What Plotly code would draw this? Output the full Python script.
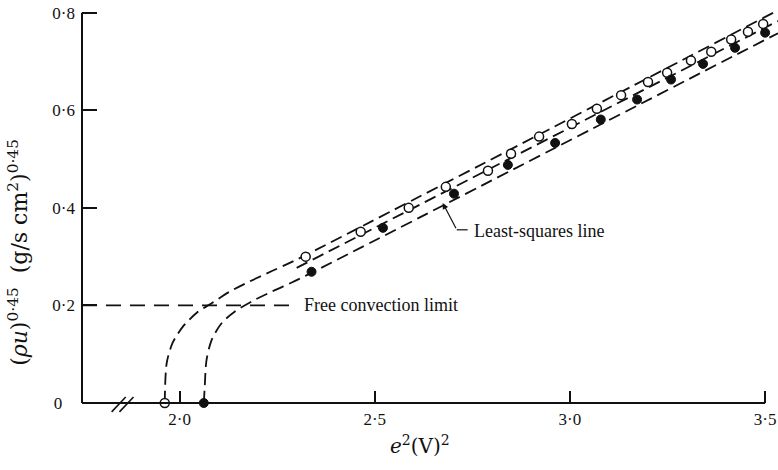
import plotly.graph_objects as go

# ---- data ----
open_x = [1.962, 2.323, 2.464, 2.587, 2.682, 2.790, 2.849, 2.921, 3.005, 3.069,
          3.131, 3.200, 3.249, 3.310, 3.362, 3.413, 3.456, 3.495]
open_y = [0.0, 0.300, 0.351, 0.400, 0.443, 0.476, 0.511, 0.546, 0.572, 0.603,
          0.631, 0.658, 0.677, 0.702, 0.720, 0.745, 0.761, 0.777]

filled_x = [2.062, 2.338, 2.521, 2.703, 2.841, 2.962, 3.079, 3.172, 3.259, 3.341, 3.423, 3.500]
filled_y = [0.0, 0.269, 0.359, 0.429, 0.488, 0.533, 0.581, 0.622, 0.663, 0.695, 0.728, 0.759]

upper_x = [1.962, 1.967, 1.982, 2.008, 2.044, 2.085, 2.128, 2.179, 2.238, 2.300, 3.533]
upper_y = [0.0, 0.082, 0.123, 0.156, 0.185, 0.206, 0.228, 0.249, 0.271, 0.294, 0.805]

lower_x = [2.062, 2.064, 2.069, 2.082, 2.108, 2.141, 2.187, 2.238, 2.290, 2.326, 3.533]
lower_y = [0.0, 0.027, 0.088, 0.129, 0.164, 0.187, 0.209, 0.229, 0.248, 0.262, 0.758]

lsq_x = [2.300, 3.533]
lsq_y = [0.277, 0.783]

free_conv_x = [1.75, 2.282]
free_conv_y = [0.2, 0.2]

x_tickvals = [2.0, 2.5, 3.0, 3.5]
x_ticktext = ["2·0", "2·5", "3·0", "3·5"]
y_tickvals = [0.0, 0.2, 0.4, 0.6, 0.8]
y_ticktext = ["0\u2008\u2007", "0·2", "0·4", "0·6", "0·8"]

INK = "#111111"
SERIF = "Liberation Serif"

fig = go.Figure()

dash_main = "12px,6px"
for xs, ys in [(upper_x, upper_y), (lower_x, lower_y)]:
    fig.add_trace(go.Scatter(x=xs, y=ys, mode="lines",
                             line=dict(color=INK, width=1.8, dash=dash_main,
                                       shape="spline", smoothing=0.8),
                             cliponaxis=False, hoverinfo="skip"))
fig.add_trace(go.Scatter(x=lsq_x, y=lsq_y, mode="lines",
                         line=dict(color=INK, width=1.8, dash=dash_main),
                         cliponaxis=False, hoverinfo="skip"))
fig.add_trace(go.Scatter(x=free_conv_x, y=free_conv_y, mode="lines",
                         line=dict(color=INK, width=1.6, dash="15px,9px"),
                         hoverinfo="skip"))

fig.add_trace(go.Scatter(x=open_x, y=open_y, mode="markers",
                         marker=dict(symbol="circle", size=9, color="white",
                                     line=dict(color=INK, width=1.5)),
                         cliponaxis=False))
fig.add_trace(go.Scatter(x=filled_x, y=filled_y, mode="markers",
                         marker=dict(symbol="circle", size=9, color=INK,
                                     line=dict(color=INK, width=1)),
                         cliponaxis=False))

shapes = [
    # x axis line
    dict(type="line", xref="x", yref="paper", x0=1.75, x1=3.5, y0=0, y1=0,
         line=dict(color=INK, width=2)),
    # y axis line
    dict(type="line", xref="paper", yref="y", x0=0, x1=0, y0=0, y1=0.8,
         line=dict(color=INK, width=2)),
    # axis break marks
    dict(type="line", xref="x", yref="paper", x0=1.826, x1=1.862, y0=-0.022, y1=0.015,
         line=dict(color=INK, width=1.6)),
    dict(type="line", xref="x", yref="paper", x0=1.846, x1=1.882, y0=-0.022, y1=0.015,
         line=dict(color=INK, width=1.6)),
    # leader for least-squares label
    dict(type="line", xref="x", yref="y", x0=2.710, x1=2.738, y0=0.355, y1=0.355,
         line=dict(color=INK, width=1.2)),
]

annotations = [
    dict(x=2.674, y=0.410, ax=2.710, ay=0.355, axref="x", ayref="y", xref="x", yref="y",
         text="", showarrow=True, arrowhead=2, arrowsize=1, arrowwidth=1.2, arrowcolor=INK),
    dict(x=2.749, y=0.352, xref="x", yref="y", text="Least-squares line",
         showarrow=False, xanchor="left", yanchor="middle",
         font=dict(family=SERIF, size=18, color=INK)),
    dict(x=2.313, y=0.2, xref="x", yref="y", text="Free convection limit",
         showarrow=False, xanchor="left", yanchor="middle",
         font=dict(family=SERIF, size=18, color=INK)),
    dict(x=2.615, y=-0.104, xref="x", yref="paper",
         text="<i>e</i><sup>2</sup>(V)<sup>2</sup>",
         showarrow=False, xanchor="center", yanchor="middle",
         font=dict(family="DejaVu Serif", size=20, color=INK)),
    dict(x=-0.092, y=0.375, xref="paper", yref="paper", textangle=-90,
         text="(<i>ρu</i>)<sup>0·45</sup>  (g/s cm<sup>2</sup>)<sup>0·45</sup>",
         showarrow=False, xanchor="center", yanchor="middle",
         font=dict(family="DejaVu Serif", size=22, color=INK)),
]

fig.update_layout(
    width=778, height=470,
    margin=dict(l=82, r=0, t=0, b=67),
    paper_bgcolor="white", plot_bgcolor="white",
    showlegend=False,
    shapes=shapes, annotations=annotations,
    xaxis=dict(range=[1.75, 3.533], showgrid=False, zeroline=False, showline=False,
               ticks="inside", ticklen=12, tickwidth=1.8, tickcolor=INK,
               tickvals=x_tickvals, ticktext=x_ticktext,
               tickfont=dict(family=SERIF, size=17, color=INK),
               ticklabelstandoff=4),
    yaxis=dict(range=[0, 0.826], showgrid=False, zeroline=False, showline=False,
               ticks="inside", ticklen=15, tickwidth=1.8, tickcolor=INK,
               tickvals=y_tickvals, ticktext=y_ticktext,
               tickfont=dict(family=SERIF, size=17, color=INK),
               ticklabelstandoff=6),
)

fig.write_html("out.html")
